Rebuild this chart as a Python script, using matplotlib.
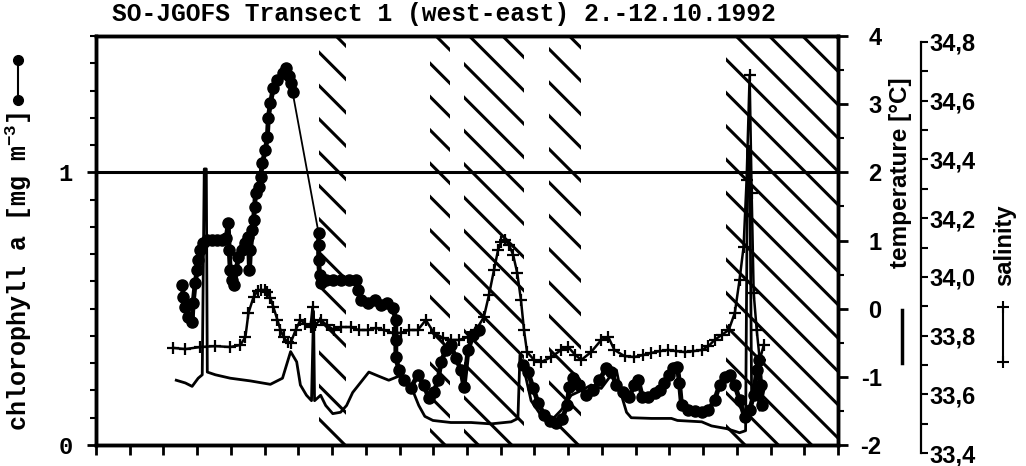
import numpy as np
import matplotlib
matplotlib.use("Agg")
import matplotlib.pyplot as plt
from matplotlib.lines import Line2D
from matplotlib.ticker import MultipleLocator, FixedLocator, FuncFormatter, NullFormatter

plt.rcParams['axes.unicode_minus'] = False
plt.rcParams['hatch.linewidth'] = 2.2
plt.rcParams['mathtext.fontset'] = 'custom'
plt.rcParams['mathtext.rm'] = 'Liberation Mono:bold'
plt.rcParams['mathtext.bf'] = 'Liberation Mono:bold'
plt.rcParams['mathtext.default'] = 'rm'

MONO = 'Liberation Mono'
SANS = 'Liberation Sans'

# position along transect (unlabelled axis, 0..22)
hatch_start = [6.60, 9.90, 10.91, 13.44, 18.67]
hatch_end = [7.40, 10.49, 12.69, 14.39, 22.0]

# temperature [degC]
temp_x = [2.38, 2.65, 2.85, 3.03, 3.15, 3.21, 3.27, 3.30, 3.54, 3.98, 4.58, 5.17, 5.53, 5.77,
          5.95, 6.06, 6.24, 6.39, 6.45, 6.48, 6.66, 6.81, 7.02, 7.25, 7.43, 7.61, 7.85, 8.09,
          8.38, 8.68, 8.98, 9.22, 9.39, 9.57, 9.75, 9.99, 10.52, 11.12, 11.71, 12.31, 12.51,
          12.57, 12.66, 12.90, 13.20, 13.50, 13.79, 14.09, 14.39, 14.68, 14.98, 15.28, 15.43,
          15.58, 15.73, 15.87, 16.47, 17.06, 17.24, 17.96, 18.25, 18.70, 19.08, 19.26, 19.32,
          19.38, 19.44, 19.56, 19.68, 19.80]
temp_y = [-1.05, -1.09, -1.14, -1.02, -0.97, 2.05, 2.05, -0.93, -0.97, -1.02, -1.06, -1.11,
          -1.02, -0.63, -0.78, -1.12, -1.27, -1.35, -0.04, -1.35, -1.27, -1.42, -1.54, -1.52,
          -1.42, -1.23, -1.08, -0.93, -0.99, -1.05, -0.99, -1.08, -1.20, -1.42, -1.58, -1.64,
          -1.67, -1.67, -1.69, -1.66, -1.61, -0.68, -0.82, -1.35, -1.57, -1.64, -1.49, -1.27,
          -1.20, -1.12, -1.17, -0.97, -0.90, -1.27, -1.52, -1.60, -1.61, -1.61, -1.64, -1.66,
          -1.72, -1.76, -1.82, -1.79, 2.38, 2.38, -1.35, -1.05, -1.49, -1.20]

# salinity
sal_x = [2.29, 2.65, 3.09, 3.54, 3.98, 4.28, 4.43, 4.52, 4.67, 4.79, 4.88, 5.00, 5.08, 5.17,
         5.26, 5.38, 5.47, 5.56, 5.68, 5.77, 5.92, 6.06, 6.21, 6.36, 6.42, 6.48, 6.66, 6.84,
         7.05, 7.25, 7.55, 7.79, 8.06, 8.29, 8.53, 8.80, 9.04, 9.27, 9.54, 9.78, 10.02, 10.29,
         10.52, 10.76, 11.03, 11.27, 11.50, 11.65, 11.80, 11.92, 12.01, 12.13, 12.25, 12.37,
         12.49, 12.60, 12.69, 12.78, 12.99, 13.20, 13.50, 13.79, 14.00, 14.21, 14.39, 14.68,
         14.98, 15.19, 15.37, 15.67, 15.96, 16.23, 16.47, 16.71, 16.97, 17.21, 17.45, 17.71,
         17.96, 18.16, 18.34, 18.55, 18.76, 18.94, 19.08, 19.20, 19.29, 19.38, 19.44, 19.50,
         19.59, 19.68, 19.80]
sal_y = [33.758, 33.754, 33.761, 33.764, 33.761, 33.768, 33.795, 33.877, 33.931, 33.952,
         33.955, 33.955, 33.948, 33.928, 33.897, 33.853, 33.819, 33.795, 33.778, 33.775,
         33.819, 33.853, 33.839, 33.829, 33.897, 33.836, 33.853, 33.836, 33.819, 33.829,
         33.829, 33.819, 33.819, 33.826, 33.819, 33.809, 33.809, 33.819, 33.819, 33.853,
         33.809, 33.792, 33.785, 33.785, 33.795, 33.819, 33.863, 33.938, 34.023, 34.091,
         34.119, 34.125, 34.108, 34.074, 34.013, 33.921, 33.819, 33.744, 33.717, 33.710,
         33.727, 33.751, 33.761, 33.734, 33.717, 33.744, 33.785, 33.795, 33.751, 33.730,
         33.727, 33.734, 33.741, 33.747, 33.751, 33.747, 33.744, 33.747, 33.751, 33.764,
         33.785, 33.802, 33.819, 33.877, 33.989, 34.102, 34.330, 34.687, 34.286, 33.945,
         33.819, 33.717, 33.768]

# chlorophyll a [mg m-3], three sampled stretches
chl1_x = [2.56, 2.59, 2.65, 2.73, 2.85, 2.88, 2.94, 3.00, 3.03, 3.09, 3.18, 3.30, 3.45, 3.60,
          3.75, 3.86, 3.92, 3.95, 3.98, 4.04, 4.10, 4.16, 4.22, 4.34, 4.43, 4.52, 4.55, 4.58,
          4.64, 4.67, 4.70, 4.73, 4.82, 4.88, 4.93, 5.02, 5.08, 5.11, 5.17, 5.26, 5.38, 5.53,
          5.62, 5.71, 5.77, 5.83]
chl1_y = [0.586, 0.542, 0.505, 0.469, 0.451, 0.520, 0.593, 0.641, 0.678, 0.714, 0.740, 0.751,
          0.751, 0.751, 0.751, 0.758, 0.813, 0.714, 0.641, 0.604, 0.586, 0.641, 0.689, 0.714,
          0.740, 0.762, 0.641, 0.714, 0.788, 0.824, 0.872, 0.923, 0.945, 0.982, 1.033, 1.081,
          1.128, 1.201, 1.253, 1.311, 1.337, 1.363, 1.381, 1.355, 1.326, 1.293]
chl2_x = [6.60, 6.60, 6.60, 6.63, 6.66, 6.81, 7.02, 7.25, 7.49, 7.70, 7.76, 7.85, 8.06, 8.26,
          8.44, 8.62, 8.80, 8.89, 8.89, 8.89, 8.98, 9.13, 9.33, 9.54, 9.72, 9.87, 10.02, 10.14,
          10.23, 10.37, 10.52, 10.67, 10.82, 10.91, 11.03, 11.18, 11.36]
chl2_y = [0.777, 0.733, 0.678, 0.623, 0.593, 0.604, 0.604, 0.604, 0.604, 0.604, 0.568, 0.531,
          0.520, 0.531, 0.513, 0.520, 0.502, 0.458, 0.385, 0.322, 0.275, 0.238, 0.209, 0.256,
          0.220, 0.172, 0.194, 0.238, 0.304, 0.348, 0.366, 0.319, 0.275, 0.212, 0.348, 0.403,
          0.421]
chl3_x = [12.66, 12.81, 12.96, 13.11, 13.29, 13.47, 13.64, 13.82, 13.97, 14.03, 14.15, 14.33,
          14.54, 14.74, 14.92, 15.13, 15.28, 15.43, 15.64, 15.81, 15.96, 16.08, 16.20, 16.38,
          16.56, 16.71, 16.85, 17.00, 17.12, 17.24, 17.30, 17.36, 17.54, 17.75, 17.96, 18.16,
          18.34, 18.49, 18.64, 18.79, 18.94, 19.08, 19.23, 19.38, 19.50, 19.59, 19.65, 19.71,
          19.74]
chl3_y = [0.293, 0.267, 0.209, 0.154, 0.110, 0.088, 0.081, 0.095, 0.147, 0.212, 0.245, 0.220,
          0.183, 0.201, 0.238, 0.282, 0.267, 0.220, 0.194, 0.176, 0.220, 0.238, 0.176, 0.176,
          0.190, 0.201, 0.227, 0.256, 0.282, 0.286, 0.227, 0.147, 0.128, 0.125, 0.121, 0.128,
          0.165, 0.220, 0.249, 0.256, 0.220, 0.165, 0.103, 0.128, 0.183, 0.275, 0.311, 0.220,
          0.147]

W, H = 1026, 466
fig = plt.figure(figsize=(W / 100, H / 100), dpi=100)
ax = fig.add_axes([96 / W, 1 - 445 / H, 742 / W, 409 / H])
axT = ax.twinx()
axS = fig.add_axes([96 / W, 1 - 453 / H, 742 / W, 411 / H])

# hatched sections
for a, b in zip(hatch_start, hatch_end):
    ax.axvspan(a, b, facecolor='none', edgecolor='black', hatch='\\', linewidth=0, zorder=0)
ax.axhline(1.0, color='black', lw=2.2, zorder=1)

# chlorophyll
mk = dict(color='black', marker='o', ms=8, mec='black', mfc='black', zorder=4)
ax.plot(chl1_x, chl1_y, lw=3.5, **mk)
ax.plot([chl1_x[-1], chl2_x[0]], [chl1_y[-1], chl2_y[0]], color='black', lw=1.3, zorder=4)
ax.plot(chl2_x, chl2_y, lw=3.5, **mk)
ax.plot(chl3_x, chl3_y, lw=3.5, **mk)

# temperature
axT.plot(temp_x, temp_y, color='black', lw=2, zorder=3)

# salinity
axS.plot(sal_x, sal_y, color='black', lw=1.8, marker='+', ms=8, mew=1.6, zorder=3)

# main axis (chlorophyll)
ax.set_xlim(0, 22)
ax.set_ylim(0, 1.5)
ax.xaxis.set_major_locator(MultipleLocator(1))
ax.xaxis.set_major_formatter(NullFormatter())
ax.tick_params(axis='x', which='major', direction='out', length=7, width=2, top=False)
ax.yaxis.set_major_locator(FixedLocator([0, 1]))
ax.yaxis.set_minor_locator(MultipleLocator(0.1))
ax.tick_params(axis='y', which='major', direction='out', length=6.5, width=2, pad=10.5,
               labelsize=17)
ax.tick_params(axis='y', which='minor', direction='out', length=4, width=1.5)
for lab in ax.get_yticklabels():
    lab.set_family(MONO)
    lab.set_weight('bold')
for s in ax.spines.values():
    s.set_linewidth(2.5)

# temperature axis
axT.set_ylim(-2, 4)
axT.yaxis.set_major_locator(FixedLocator([-2, -1, 0, 1, 2, 3, 4]))
axT.yaxis.set_minor_locator(MultipleLocator(0.5))
axT.tick_params(axis='y', which='major', direction='out', length=7, width=2, pad=24.5,
                labelsize=17)
axT.tick_params(axis='y', which='minor', direction='out', length=4, width=1.5)
for t in axT.yaxis.get_major_ticks():
    t.label2.set_horizontalalignment('right')
    t.label2.set_family(SANS)
    t.label2.set_weight('bold')
for s in axT.spines.values():
    s.set_linewidth(2.5)

# salinity axis
axS.set_xlim(0, 22)
axS.set_ylim(33.4, 34.8)
axS.patch.set_visible(False)
for k in ['left', 'top', 'bottom']:
    axS.spines[k].set_visible(False)
axS.spines['right'].set_position(('axes', 825 / 742))
axS.spines['right'].set_linewidth(1.6)
axS.set_xticks([])
axS.yaxis.tick_right()
axS.yaxis.set_major_locator(MultipleLocator(0.2))
axS.yaxis.set_minor_locator(MultipleLocator(0.1))
axS.yaxis.set_major_formatter(FuncFormatter(lambda v, p: f'{v:.1f}'.replace('.', ',')))
axS.tick_params(axis='y', which='both', direction='out', length=5, width=1.5, pad=1.0,
                labelsize=17, left=False)
for lab in axS.get_yticklabels():
    lab.set_family(SANS)
    lab.set_weight('bold')

# texts
fig.text(444 / W, 1 - 14 / H, 'SO-JGOFS Transect 1 (west-east) 2.-12.10.1992',
         family=MONO, weight='bold', size=17.7, ha='center', va='center')
fig.text(19 / W, 1 - 271 / H, r'chlorophyll a [mg m$^{-3}$]', family=MONO, weight='bold',
         size=18, rotation=90, ha='center', va='center')
fig.add_artist(Line2D([18 / W, 18 / W], [1 - 100 / H, 1 - 60 / H], transform=fig.transFigure,
                      color='black', lw=1.5, marker='o', ms=7))
fig.text(900 / W, 1 - 173 / H, 'temperature [°C]', family=SANS, weight='bold', size=17.5,
         rotation=90, ha='center', va='center')
fig.add_artist(Line2D([902 / W, 902 / W], [1 - 363 / H, 1 - 310 / H], transform=fig.transFigure,
                      color='black', lw=2.5))
fig.text(1005 / W, 1 - 245 / H, 'salinity', family=SANS, weight='bold', size=17,
         rotation=90, ha='center', va='center')
fig.add_artist(Line2D([1003 / W, 1003 / W], [1 - 362 / H, 1 - 307 / H], transform=fig.transFigure,
                      color='black', lw=1.5, marker='+', ms=8, mew=1.5))

fig.savefig('out.png', dpi=100)
